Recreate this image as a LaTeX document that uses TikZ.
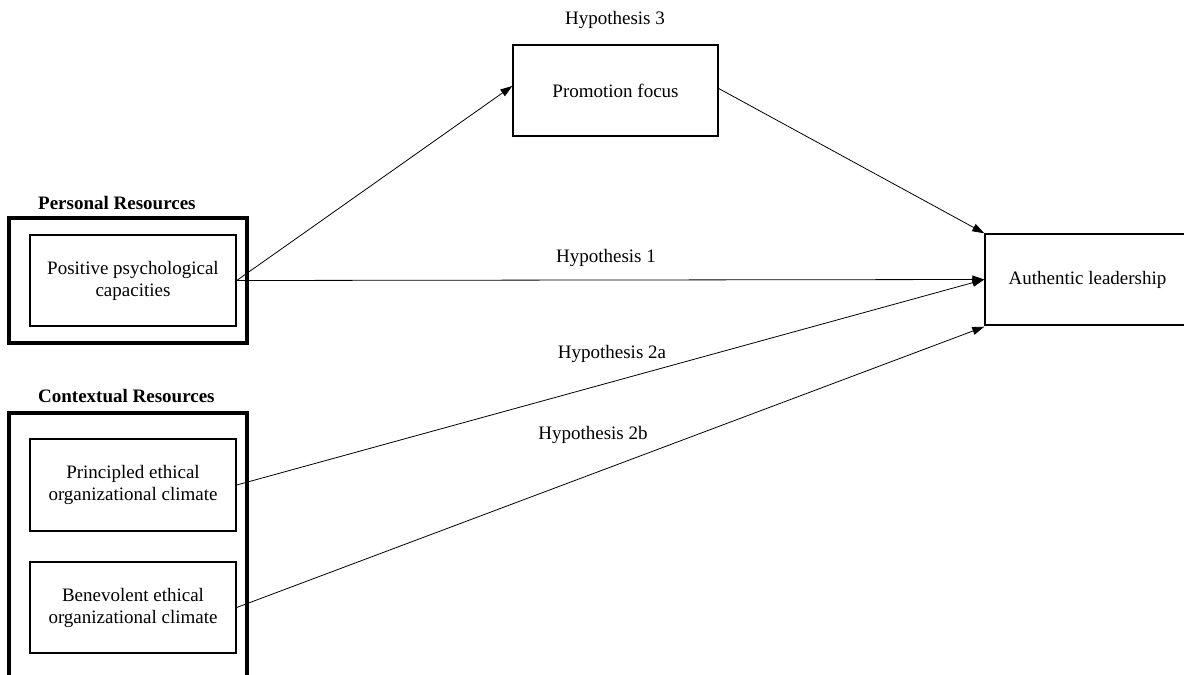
\documentclass[tikz,border=0pt]{standalone}
\usepackage{fontspec}
\setmainfont{Liberation Serif}
\usetikzlibrary{arrows.meta}
\begin{document}
\begin{tikzpicture}[x=1pt,y=-1pt,
  font=\fontsize{19}{22}\selectfont,
  box/.style={draw, line width=1.4pt, minimum width=206pt, minimum height=91pt, inner sep=0pt, align=center},
  group/.style={draw, line width=3.5pt, minimum width=238pt, inner sep=0pt},
  lbl/.style={inner sep=0pt},
  conn/.style={line width=0.8pt, -{Triangle[length=12pt,width=8pt]}}
]
\useasboundingbox (0,0) rectangle (1184,675);
\clip (0,0) rectangle (1184,675);
\fill[white] (0,0) rectangle (1184,675);

% group boxes
\node[group, minimum height=125pt] (pr) at (128,280.5) {};
\node[group, minimum height=280pt] (cr) at (128,553) {};
\node[lbl, anchor=west, font=\fontsize{19}{22}\selectfont\bfseries] (prl) at (38,203) {Personal Resources};
\node[lbl, anchor=west, font=\fontsize{19}{22}\selectfont\bfseries] (crl) at (38,396) {Contextual Resources};

% inner boxes
\node[box] (ppc) at (133,280.5) {Positive psychological\\capacities};
\node[box, minimum height=92pt] (pec) at (133,485) {Principled ethical\\organizational climate};
\node[box] (bec) at (133,607.5) {Benevolent ethical\\organizational climate};

\node[box, minimum width=205pt] (pf) at (615.5,90.5) {Promotion focus};
\node[box, minimum width=205pt] (al) at (1087.5,279.5) {Authentic leadership};

% hypothesis labels
\node[lbl] (h3) at (615,20) {Hypothesis 3};
\node[lbl] (h1) at (606,258) {Hypothesis 1};
\node[lbl] (h2a) at (612,354) {Hypothesis 2a};
\node[lbl] (h2b) at (593,435) {Hypothesis 2b};

% connectors
\draw[conn] (ppc.east) -- ([yshift=4.5pt]pf.west);
\draw[conn] ([yshift=2pt]pf.east) -- (al.north west);
\draw[conn] (ppc.east) -- (al.west);
\draw[conn] (pec.east) -- (al.west);
\draw[conn] (bec.east) -- ([yshift=-1pt]al.south west);
\end{tikzpicture}
\end{document}
